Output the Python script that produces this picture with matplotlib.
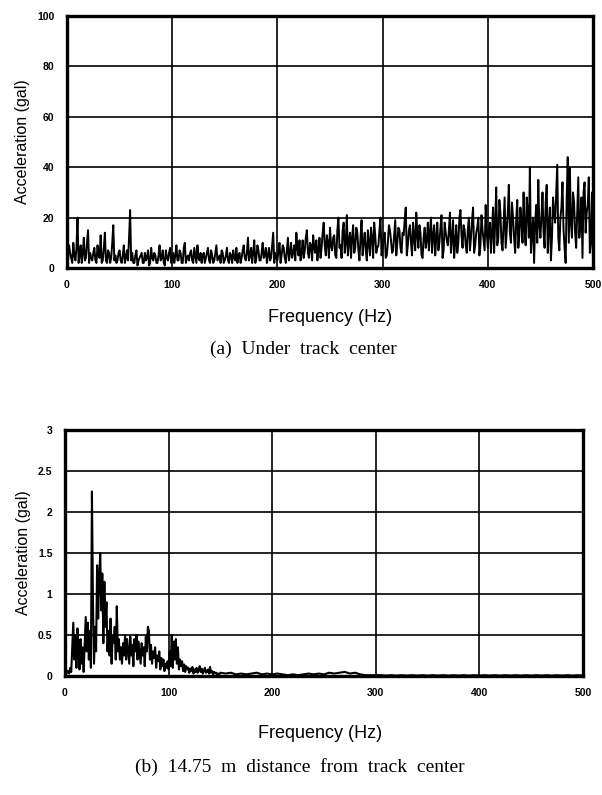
import numpy as np
import matplotlib.pyplot as plt

# --- data ---

# (a) under track center, 1 Hz steps from 0 to 500 Hz
# even-Hz readings (0, 2, ..., 500)
accel_a_even = [
	0.5, 9, 4, 10, 3, 20, 5, 2, 12, 4, 15, 6, 3, 8, 2, 5, 13, 3, 14, 2, 6, 4, 17, 5, 3,
	7, 2, 9, 4, 3, 23, 6, 2, 7, 3, 5, 2, 6, 4, 1, 8, 3, 5, 2, 9, 4, 2, 7, 3, 8,
	4, 2, 9, 3, 6, 2, 10, 4, 3, 7, 2, 5, 9, 3, 2, 6, 4, 8, 2, 5, 3, 9, 4, 2, 6,
	3, 8, 2, 5, 7, 3, 2, 6, 4, 9, 3, 12, 5, 2, 11, 4, 7, 3, 10, 5, 2, 8, 4, 14, 6,
	3, 10, 5, 8, 2, 12, 6, 4, 9, 14, 5, 3, 11, 7, 15, 4, 9, 13, 6, 3, 12, 8, 18, 5, 10,
	16, 7, 13, 4, 20, 9, 15, 6, 21, 11, 4, 17, 8, 14, 3, 19, 10, 7, 15, 5, 12, 18, 6, 9, 20,
	8, 14, 5, 17, 11, 7, 19, 10, 15, 6, 13, 24, 9, 17, 5, 12, 22, 8, 14, 4, 16, 11, 7, 20, 13,
	5, 18, 10, 21, 7, 14, 9, 22, 12, 4, 17, 10, 23, 8, 15, 6, 20, 12, 24, 9, 16, 5, 21, 11, 25,
	8, 18, 14, 6, 32, 12, 22, 7, 28, 15, 33, 10, 20, 6, 27, 13, 18, 30, 9, 22, 40, 14, 2, 25, 35,
	12, 30, 8, 33, 16, 3, 28, 18, 41, 7, 24, 15, 2, 44, 40, 12, 26, 8, 36, 18, 4, 34, 22, 36, 10,
	3,
]
# odd-Hz readings (1, 3, ..., 499)
accel_a_odd = [
	3, 6, 2, 5, 8, 2, 9, 6, 3, 10, 2, 4, 6, 3, 9, 4, 2, 8, 3, 7, 2, 10, 3, 2, 6,
	3, 5, 2, 7, 12, 3, 2, 5, 1, 4, 6, 2, 3, 7, 2, 4, 6, 2, 5, 3, 7, 1, 4, 6, 2,
	6, 5, 3, 7, 2, 8, 2, 5, 6, 3, 8, 2, 4, 6, 5, 2, 6, 3, 7, 2, 6, 3, 5, 7, 2,
	5, 3, 6, 2, 4, 8, 5, 2, 7, 4, 6, 3, 8, 6, 2, 9, 3, 6, 4, 8, 5, 3, 9, 2, 4,
	7, 2, 9, 4, 7, 3, 10, 6, 3, 8, 11, 6, 4, 12, 6, 10, 3, 8, 11, 7, 4, 14, 9, 13, 4,
	9, 12, 5, 15, 8, 4, 18, 10, 5, 14, 12, 6, 16, 7, 12, 5, 14, 3, 10, 16, 4, 13, 8, 15, 5,
	12, 4, 10, 15, 6, 13, 5, 16, 8, 14, 19, 5, 15, 10, 18, 7, 13, 17, 5, 12, 8, 18, 14, 6, 17,
	12, 7, 16, 4, 18, 11, 15, 6, 19, 10, 6, 20, 13, 17, 9, 15, 7, 19, 6, 14, 20, 9, 15, 7, 14,
	15, 6, 24, 18, 9, 27, 10, 18, 8, 22, 14, 26, 12, 19, 8, 24, 10, 15, 28, 12, 6, 20, 18, 10, 17,
	20, 14, 26, 6, 24, 12, 22, 30, 12, 20, 34, 8, 28, 10, 18, 30, 14, 22, 12, 28, 30, 14, 25, 6, 30,
]
freq_a = np.arange(0, 501, 1)
accel_a = np.empty(len(freq_a))
accel_a[0::2] = accel_a_even
accel_a[1::2] = accel_a_odd

# (b) 14.75 m from track center: 1 Hz steps to 150 Hz, then 5 Hz steps
freq_b = np.concatenate([np.arange(0, 151, 1), np.arange(155, 501, 5)])
accel_b = [
	0.05, 0.08, 0.04, 0.06, 0.03, 0.1, 0.05, 0.35, 0.65, 0.2, 0.5, 0.1, 0.58, 0.3, 0.08, 0.45, 0.15, 0.35, 0.05, 0.4, 0.72, 0.3, 0.65, 0.2, 0.55,
	0.1, 2.25, 0.9, 0.15, 0.6, 0.3, 1.35, 0.7, 1.2, 1.5, 0.8, 1.25, 0.4, 1.15, 0.6, 0.9, 0.3, 0.55, 0.25, 0.7, 0.15, 0.5, 0.4, 0.6, 0.2,
	0.85, 0.3, 0.45, 0.2, 0.35, 0.15, 0.4, 0.25, 0.5, 0.2, 0.45, 0.3, 0.15, 0.48, 0.25, 0.38, 0.12, 0.45, 0.3, 0.5, 0.2, 0.42, 0.28, 0.15, 0.4,
	0.25, 0.35, 0.12, 0.48, 0.3, 0.6, 0.55, 0.2, 0.38, 0.15, 0.3, 0.22, 0.35, 0.1, 0.25, 0.18, 0.3, 0.08, 0.22, 0.12, 0.2, 0.06, 0.15, 0.1, 0.18,
	0.08, 0.3, 0.12, 0.5, 0.1, 0.42, 0.2, 0.45, 0.15, 0.35, 0.08, 0.2, 0.12, 0.18, 0.06, 0.14, 0.05, 0.12, 0.08, 0.1, 0.04, 0.09, 0.06, 0.11, 0.03,
	0.08, 0.05, 0.1, 0.04, 0.07, 0.12, 0.05, 0.09, 0.03, 0.06, 0.1, 0.04, 0.05, 0.08, 0.03, 0.11, 0.04, 0.06, 0.02, 0.05, 0.03, 0.04, 0.02, 0.03, 0.02,
	0.04,
	# 155 .. 500 Hz
	0.03, 0.04, 0.02, 0.03, 0.02, 0.03, 0.04, 0.02, 0.03, 0.02,
	0.03, 0.02, 0.01, 0.02, 0.01, 0.02, 0.03, 0.02, 0.03, 0.02,
	0.04, 0.03, 0.04, 0.05, 0.03, 0.04, 0.02, 0.01, 0.01, 0.01,
	0.01, 0.005, 0.01, 0.005, 0.01, 0.005, 0.01, 0.005, 0.01, 0.005,
	0.01, 0.005, 0.01, 0.005, 0.01, 0.005, 0.01, 0.005, 0.01, 0.005,
	0.01, 0.005, 0.01, 0.005, 0.01, 0.005, 0.01, 0.005, 0.01, 0.005,
	0.01, 0.005, 0.01, 0.005, 0.01, 0.005, 0.01, 0.005, 0.01, 0.005,
]

xticks = [0, 100, 200, 300, 400, 500]
yticks_a = [0, 20, 40, 60, 80, 100]
yticks_b = [0, 0.5, 1, 1.5, 2, 2.5, 3]
ylabels_b = ["0", "0.5", "1", "1.5", "2", "2.5", "3"]

W, H = 602, 795
fig = plt.figure(figsize=(W / 100, H / 100), dpi=100)


def px_axes(x0, y0, x1, y1):
	# axes from pixel box (top-left origin)
	return fig.add_axes([x0 / W, 1 - y1 / H, (x1 - x0) / W, (y1 - y0) / H])


def style(ax, yt, ylab):
	ax.set_xlim(0, 500)
	ax.set_xticks(xticks)
	ax.set_yticks(yt)
	ax.set_yticklabels(ylab)
	ax.grid(True, color="black", linewidth=1.2)
	ax.set_axisbelow(True)
	for s in ax.spines.values():
		s.set_linewidth(2.4)
	ax.tick_params(length=0, pad=9, labelsize=7.5)
	for t in ax.get_xticklabels() + ax.get_yticklabels():
		t.set_fontweight("bold")
		t.set_family("Liberation Sans")
	ax.set_ylabel("Acceleration (gal)", family="Liberation Sans", fontsize=11.5, labelpad=5)


# top panel
ax1 = px_axes(67, 16, 593, 268)
ax1.plot(freq_a, accel_a, color="black", linewidth=1.4)
ax1.set_ylim(0, 100)
style(ax1, yticks_a, [str(v) for v in yticks_a])
fig.text(330 / W, 1 - 318 / H, "Frequency (Hz)", ha="center", va="center",
	family="Liberation Sans", fontsize=13)
fig.text(303 / W, 1 - 349 / H, "(a)  Under  track  center", ha="center", va="center",
	family="Liberation Serif", fontsize=14)

# bottom panel
ax2 = px_axes(65, 430, 583, 676)
ax2.plot(freq_b, accel_b, color="black", linewidth=1.5)
ax2.set_ylim(0, 3)
style(ax2, yticks_b, ylabels_b)
fig.text(320 / W, 1 - 734 / H, "Frequency (Hz)", ha="center", va="center",
	family="Liberation Sans", fontsize=13)
fig.text(300 / W, 1 - 767 / H, "(b)  14.75  m  distance  from  track  center", ha="center", va="center",
	family="Liberation Serif", fontsize=14)

fig.savefig("out.png", dpi=100)
